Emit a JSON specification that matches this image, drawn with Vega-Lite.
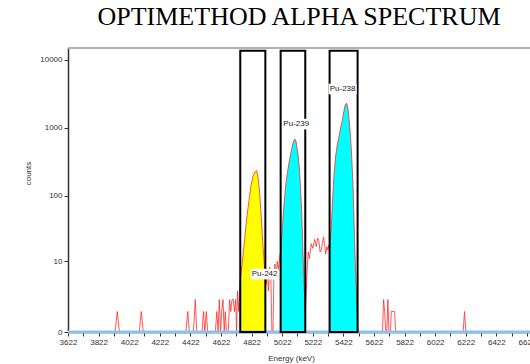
{
  "$schema": "https://vega.github.io/schema/vega-lite/v6.json",
  "autosize": "none",
  "padding": {"left": 68, "top": 48, "right": 0, "bottom": 32},
  "width": 462,
  "height": 284,
  "background": "white",
  "title": {"text": "OPTIMETHOD ALPHA SPECTRUM", "font": "Liberation Serif", "fontSize": 26, "fontWeight": "normal", "color": "#000000", "anchor": "middle", "baseline": "alphabetic", "offset": -4},
  "config": {
    "view": {"stroke": null},
    "axis": {"labelFont": "Liberation Sans", "titleFont": "Liberation Sans", "labelFontSize": 8, "titleFontSize": 8, "titleFontWeight": "normal", "labelColor": "#333333", "titleColor": "#333333", "grid": false, "tickColor": "#333333", "labelOverlap": false, "labelBound": false, "labelFlush": false, "tickSize": 4, "labelPadding": 2, "zindex": 1}
  },
  "datasets": {
    "spectrum": [
      {"E": 3622, "c": 0}, {"E": 3930, "c": 0}, {"E": 3944, "c": 1}, {"E": 3958, "c": 0},
      {"E": 4088, "c": 0}, {"E": 4101, "c": 1}, {"E": 4114, "c": 0},
      {"E": 4392, "c": 0}, {"E": 4405, "c": 1}, {"E": 4415, "c": 0},
      {"E": 4442, "c": 0}, {"E": 4454, "c": 2}, {"E": 4464, "c": 0},
      {"E": 4498, "c": 0}, {"E": 4508, "c": 1}, {"E": 4516, "c": 0}, {"E": 4526, "c": 1}, {"E": 4535, "c": 0},
      {"E": 4585, "c": 0}, {"E": 4595, "c": 1}, {"E": 4603, "c": 0}, {"E": 4611, "c": 2}, {"E": 4619, "c": 0}, {"E": 4627, "c": 1}, {"E": 4635, "c": 2}, {"E": 4643, "c": 0}, {"E": 4650, "c": 1}, {"E": 4658, "c": 0},
      {"E": 4670, "c": 0}, {"E": 4678, "c": 2}, {"E": 4686, "c": 1}, {"E": 4694, "c": 2}, {"E": 4702, "c": 2}, {"E": 4710, "c": 1}, {"E": 4718, "c": 2}, {"E": 4724, "c": 0}, {"E": 4730, "c": 3}, {"E": 4738, "c": 1}, {"E": 4745, "c": 4},
      {"E": 4748, "c": 5}, {"E": 4760, "c": 9}, {"E": 4775, "c": 20}, {"E": 4790, "c": 45}, {"E": 4805, "c": 85}, {"E": 4818, "c": 140}, {"E": 4832, "c": 195}, {"E": 4845, "c": 228}, {"E": 4855, "c": 235}, {"E": 4865, "c": 180}, {"E": 4875, "c": 110}, {"E": 4885, "c": 50}, {"E": 4895, "c": 20}, {"E": 4905, "c": 9}, {"E": 4912, "c": 6},
      {"E": 4918, "c": 4}, {"E": 4925, "c": 7}, {"E": 4932, "c": 3}, {"E": 4940, "c": 8}, {"E": 4948, "c": 5}, {"E": 4955, "c": 0}, {"E": 4962, "c": 0}, {"E": 4968, "c": 6}, {"E": 4975, "c": 9}, {"E": 4982, "c": 5}, {"E": 4990, "c": 10}, {"E": 4998, "c": 7}, {"E": 5005, "c": 12},
      {"E": 5012, "c": 14}, {"E": 5020, "c": 25}, {"E": 5028, "c": 50}, {"E": 5038, "c": 95}, {"E": 5049, "c": 170}, {"E": 5060, "c": 250}, {"E": 5070, "c": 338}, {"E": 5080, "c": 440}, {"E": 5090, "c": 560}, {"E": 5098, "c": 650}, {"E": 5105, "c": 690}, {"E": 5112, "c": 640}, {"E": 5120, "c": 500}, {"E": 5128, "c": 370}, {"E": 5135, "c": 240}, {"E": 5142, "c": 130}, {"E": 5150, "c": 55}, {"E": 5158, "c": 14}, {"E": 5165, "c": 4}, {"E": 5173, "c": 1},
      {"E": 5180, "c": 3}, {"E": 5186, "c": 8}, {"E": 5192, "c": 14}, {"E": 5200, "c": 11}, {"E": 5212, "c": 19}, {"E": 5222, "c": 16}, {"E": 5234, "c": 22}, {"E": 5245, "c": 17}, {"E": 5254, "c": 23}, {"E": 5262, "c": 21}, {"E": 5270, "c": 14}, {"E": 5278, "c": 15}, {"E": 5286, "c": 20}, {"E": 5293, "c": 24}, {"E": 5300, "c": 18}, {"E": 5306, "c": 13}, {"E": 5314, "c": 17}, {"E": 5321, "c": 15}, {"E": 5326, "c": 18},
      {"E": 5332, "c": 15}, {"E": 5343, "c": 34}, {"E": 5354, "c": 110}, {"E": 5362, "c": 220}, {"E": 5371, "c": 375}, {"E": 5382, "c": 560}, {"E": 5393, "c": 740}, {"E": 5404, "c": 1000}, {"E": 5415, "c": 1300}, {"E": 5425, "c": 1750}, {"E": 5434, "c": 2200}, {"E": 5445, "c": 2300}, {"E": 5452, "c": 1900}, {"E": 5458, "c": 1450}, {"E": 5466, "c": 900}, {"E": 5473, "c": 530}, {"E": 5484, "c": 170}, {"E": 5490, "c": 60}, {"E": 5495, "c": 21}, {"E": 5501, "c": 8}, {"E": 5506, "c": 3.6}, {"E": 5512, "c": 1}, {"E": 5517, "c": 0},
      {"E": 5678, "c": 0}, {"E": 5685, "c": 2}, {"E": 5692, "c": 1}, {"E": 5699, "c": 0}, {"E": 5706, "c": 0}, {"E": 5713, "c": 2}, {"E": 5720, "c": 0}, {"E": 5730, "c": 0}, {"E": 5735, "c": 1}, {"E": 5757, "c": 1}, {"E": 5764, "c": 0},
      {"E": 6205, "c": 0}, {"E": 6214, "c": 1}, {"E": 6223, "c": 0}, {"E": 6642, "c": 0}
    ],
    "rois": [
      {"label": "Pu-242", "E": 4748, "E2": 4912, "top": 13700, "lx": 4907, "ly": 6.1},
      {"label": "Pu-239", "E": 5012, "E2": 5173, "top": 13700, "lx": 5114, "ly": 1140},
      {"label": "Pu-238", "E": 5332, "E2": 5515, "top": 13700, "lx": 5417, "ly": 3740}
    ]
  },
  "layer": [
    {
      "data": {"name": "spectrum"},
      "transform": [{"filter": "datum.E >= 4748 && datum.E <= 4912"}],
      "mark": {"type": "area", "color": "#ffff00"},
      "encoding": {
        "x": {"field": "E", "type": "quantitative", "scale": {"domain": [3622, 6642], "nice": false, "zero": false},
          "axis": {"title": "Energy (keV)", "values": [3622, 3722, 3822, 3922, 4022, 4122, 4222, 4322, 4422, 4522, 4622, 4722, 4822, 4922, 5022, 5122, 5222, 5322, 5422, 5522, 5622, 5722, 5822, 5922, 6022, 6122, 6222, 6322, 6422, 6522, 6622],
            "tickCount": 60, "format": "d", "labelExpr": "(datum.value - 3622) % 200 === 0 ? datum.label : ''", "labelOverlap": false,
            "domainColor": "#24527f", "domainWidth": 1.5, "titleX": 223, "titleY": 22, "titleBaseline": "top"}},
        "y": {"field": "c", "type": "quantitative", "stack": null, "scale": {"type": "symlog", "constant": 1, "domain": [0, 15000], "nice": false},
          "axis": {"title": "counts", "values": [0, 10, 100, 1000, 10000], "tickCount": 20, "format": "d", "labelOverlap": false, "domainColor": "#333333", "domainWidth": 1.5, "titleX": -36, "titleY": 125}}
      }
    },
    {
      "data": {"name": "spectrum"},
      "transform": [{"filter": "datum.E >= 5012 && datum.E <= 5173"}],
      "mark": {"type": "area", "color": "#00ffff"},
      "encoding": {
        "x": {"field": "E", "type": "quantitative"},
        "y": {"field": "c", "type": "quantitative", "stack": null}
      }
    },
    {
      "data": {"name": "spectrum"},
      "transform": [{"filter": "datum.E >= 5332 && datum.E <= 5512"}],
      "mark": {"type": "area", "color": "#00ffff"},
      "encoding": {
        "x": {"field": "E", "type": "quantitative"},
        "y": {"field": "c", "type": "quantitative", "stack": null}
      }
    },
    {
      "data": {"name": "spectrum"},
      "mark": {"type": "line", "color": "#ff2222", "strokeWidth": 0.9, "opacity": 0.85},
      "encoding": {
        "x": {"field": "E", "type": "quantitative"},
        "y": {"field": "c", "type": "quantitative"}
      }
    },
    {
      "data": {"values": [{"c": 0}]},
      "mark": {"type": "rule", "color": "#8ec0ea", "strokeWidth": 3},
      "encoding": {
        "y": {"field": "c", "type": "quantitative"}
      }
    },
    {
      "data": {"values": [{"c": 15000}]},
      "mark": {"type": "rule", "color": "#9a9a9a", "strokeWidth": 1.5},
      "encoding": {
        "y": {"field": "c", "type": "quantitative"}
      }
    },
    {
      "data": {"name": "rois"},
      "mark": {"type": "rect", "fillOpacity": 0, "stroke": "#000000", "strokeWidth": 2},
      "encoding": {
        "x": {"field": "E", "type": "quantitative"},
        "x2": {"field": "E2"},
        "y": {"field": "top", "type": "quantitative"},
        "y2": {"datum": 0}
      }
    },
    {
      "data": {"name": "rois"},
      "mark": {"type": "point", "shape": "M-1,-0.38H1V0.38H-1Z", "filled": true, "color": "#ffffff", "opacity": 1, "size": 784},
      "encoding": {
        "x": {"field": "lx", "type": "quantitative"},
        "y": {"field": "ly", "type": "quantitative"}
      }
    },
    {
      "data": {"name": "rois"},
      "mark": {"type": "text", "font": "Liberation Sans", "fontSize": 8, "color": "#222222", "baseline": "middle", "align": "center"},
      "encoding": {
        "x": {"field": "lx", "type": "quantitative"},
        "y": {"field": "ly", "type": "quantitative"},
        "text": {"field": "label"}
      }
    }
  ]
}
